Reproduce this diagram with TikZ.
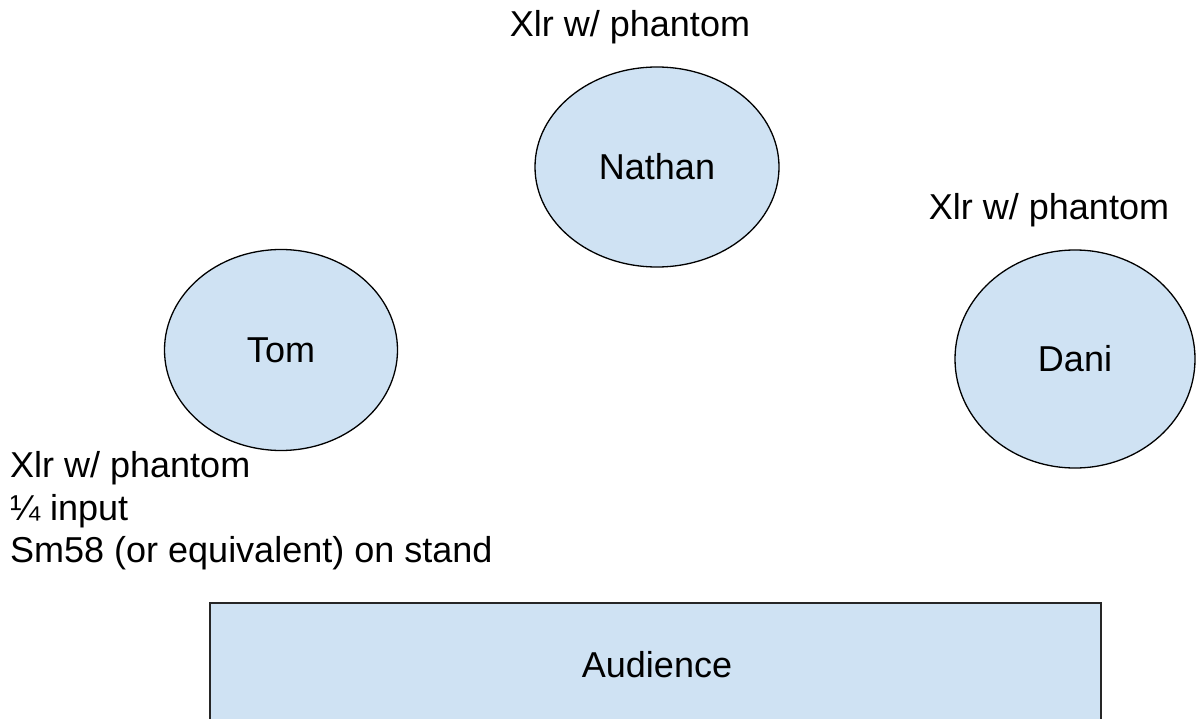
\documentclass[tikz,border=0pt]{standalone}
\usepackage{fontspec}
\setmainfont{Liberation Sans}
\usetikzlibrary{shapes.geometric}
\definecolor{fillblue}{HTML}{CFE2F3}
\begin{document}
\begin{tikzpicture}[x=1pt,y=-1pt,
  person/.style={ellipse,draw=black,line width=1.3pt,fill=fillblue,inner sep=0pt},
  lbl/.style={font=\fontsize{36}{43}\selectfont,inner sep=0pt}]
\useasboundingbox (0,0) rectangle (1196,719);
\fill[white] (0,0) rectangle (1196,719);
\node[person,minimum width=244pt,minimum height=200pt,lbl] (nathan) at (657,167) {Nathan};
\node[person,minimum width=233pt,minimum height=201pt,lbl] (tom) at (281,350) {Tom};
\node[person,minimum width=240pt,minimum height=218pt,lbl] (dani) at (1075,359) {Dani};
\draw[line width=2pt,draw=black!85,fill=fillblue] (210,603) rectangle (1101,740);
\node[lbl] (audience) at (657,665) {Audience};
\node[lbl,anchor=base] (nlabel) at (630,37) {Xlr w/ phantom};
\node[lbl,anchor=base] (dlabel) at (1049,220) {Xlr w/ phantom};
\node[lbl,anchor=base west] (t1) at (10,477) {Xlr w/ phantom};
\node[lbl,anchor=base west] (t2) at (10,520) {¼ input};
\node[lbl,anchor=base west] (t3) at (10,562) {Sm58 (or equivalent) on stand};
\end{tikzpicture}
\end{document}
